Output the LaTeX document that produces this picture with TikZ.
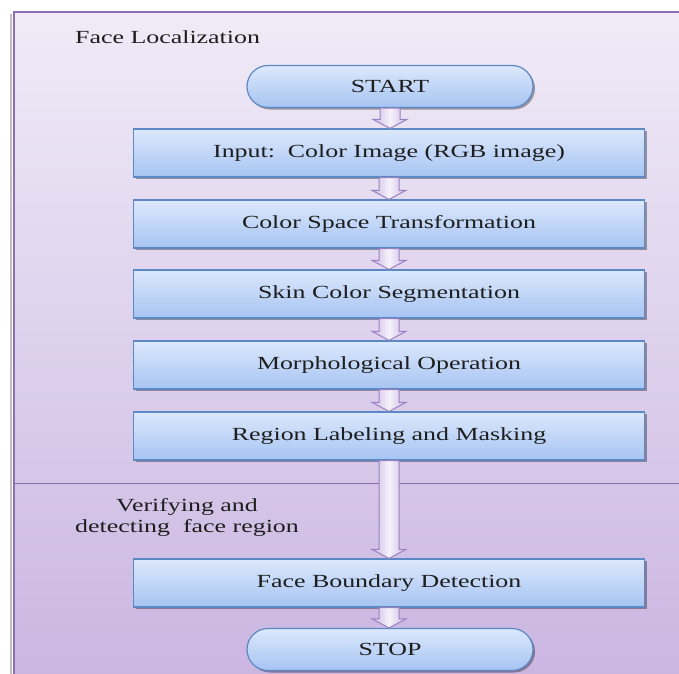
\documentclass[tikz,border=0pt]{standalone}
\usepackage{fontspec}
\setmainfont{Liberation Serif}[FakeStretch=1.4]
\usetikzlibrary{calc,shadows}
\definecolor{framec}{HTML}{8A70B2}
\definecolor{bgtop}{HTML}{F0EBF7}
\definecolor{bgbot}{HTML}{C9B4E1}
\definecolor{boxtop}{HTML}{DCE8FC}
\definecolor{boxbot}{HTML}{A6C4F2}
\definecolor{boxline}{HTML}{5C88C4}
\definecolor{arrside}{HTML}{CDB9E3}
\definecolor{arrmid}{HTML}{F6F2FB}
\definecolor{arrline}{HTML}{9A82C2}
\definecolor{txt}{HTML}{1E1E1E}
\tikzset{
  basefont/.style={font=\fontsize{18.5}{21}\selectfont, text=txt},
  stepbox/.style={basefont, rectangle, draw=boxline, line width=1.2pt,
    minimum width=511pt, minimum height=48pt, inner sep=0pt,
    top color=boxtop, bottom color=boxbot,
    drop shadow={shadow xshift=2pt, shadow yshift=-2pt, opacity=0.35, fill=black}},
  terminal/.style={stepbox, minimum width=286pt, minimum height=42pt, rounded corners=21pt},
  blockarrow/.style={draw=arrline, line width=1pt, left color=arrside, right color=arrside, middle color=arrmid},
  label/.style={basefont, inner sep=0pt}
}
\newcommand\blockarr[2]{%
  \path let \p1=(#1.south), \p2=(#2.north) in [blockarrow]
    (\x1-10pt,\y1) -- (\x1+10pt,\y1) -- (\x1+10pt,\y2+9pt) -- (\x1+17pt,\y2+9pt)
    -- (\x1,\y2) -- (\x1-17pt,\y2+9pt) -- (\x1-10pt,\y2+9pt) -- cycle;}
\begin{document}
\begin{tikzpicture}[x=1pt,y=1pt]
\useasboundingbox (0,0) rectangle (679,-673);
\begin{scope}
  \clip (0,0) rectangle (679,-673);
  \path[top color=bgtop, bottom color=bgbot] (14,-12) rectangle (700,-700);
  \draw[black!25, line width=2pt] (11,-14) -- (11,-700);
  \draw[framec, line width=1.6pt] (700,-12) -- (14,-12) -- (14,-700);
  \draw[framec, line width=1pt] (14,-483) -- (700,-483);
\end{scope}

\node[label, anchor=west] (title) at (75,-37) {Face Localization};
\node[label, align=center] (verify) at (187,-517) {Verifying and\\detecting\ \ face region};

\node[terminal] (start) at (390,-86.5) {START};
\node[stepbox] (b1) at (389,-153) {Input:\ \ Color Image (RGB image)};
\node[stepbox] (b2) at (389,-224) {Color Space Transformation};
\node[stepbox] (b3) at (389,-294) {Skin Color Segmentation};
\node[stepbox] (b4) at (389,-365) {Morphological Operation};
\node[stepbox] (b5) at (389,-436) {Region Labeling and Masking};
\node[stepbox] (b6) at (389,-583) {Face Boundary Detection};
\node[terminal] (stop) at (390,-649.5) {STOP};

\blockarr{start}{b1}
\blockarr{b1}{b2}
\blockarr{b2}{b3}
\blockarr{b3}{b4}
\blockarr{b4}{b5}
\blockarr{b5}{b6}
\blockarr{b6}{stop}
\end{tikzpicture}
\end{document}
